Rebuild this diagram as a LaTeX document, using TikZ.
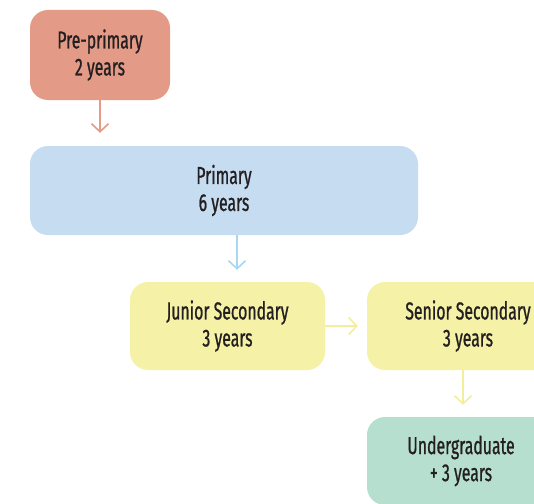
\documentclass[tikz,border=0pt]{standalone}
\usepackage{fontspec}
\setmainfont{Fira Sans}[FakeStretch=0.645, FakeBold=0.9]
\usetikzlibrary{arrows.meta}
\definecolor{preCol}{HTML}{E39A86}
\definecolor{primCol}{HTML}{C6DCF0}
\definecolor{primArr}{HTML}{A6D8F2}
\definecolor{secCol}{HTML}{F5F2A8}
\definecolor{secArr}{HTML}{F2EE9C}
\definecolor{uniCol}{HTML}{B6DFD0}
\definecolor{txtCol}{HTML}{231F20}

\begin{document}
\begin{tikzpicture}[x=1pt,y=-1pt]
\tikzstyle{stage} = [rounded corners=18pt, align=center, text=txtCol, font=\fontsize{24.5}{27}\selectfont, inner sep=0pt]
\tikzstyle{edge} = [-{Straight Barb[length=8pt,width=17pt]}, line width=1.6pt]
\clip (0,0) rectangle (534,503);
\node[stage, fill=preCol, minimum width=140pt, minimum height=90pt] (pre) at (100,55) {Pre-primary\\2 years};
\node[stage, fill=primCol, minimum width=388pt, minimum height=89pt] (prim) at (224,190.5) {Primary\\6 years};
\node[stage, fill=secCol, minimum width=195pt, minimum height=88pt] (jun) at (227.5,326) {Junior Secondary\\3 years};
\node[stage, fill=secCol, minimum width=202pt, minimum height=88pt] (sen) at (468,326) {Senior Secondary\\3 years};
\node[stage, fill=uniCol, minimum width=188pt, minimum height=88pt] (uni) at (461,461) {Undergraduate\\+ 3 years};
\draw[edge, preCol, shorten >=13pt] (pre.south) -- (pre.south |- prim.north);
\draw[edge, primArr, shorten >=12pt] ([xshift=9.5pt]jun.north |- prim.south) -- ([xshift=9.5pt]jun.north);
\draw[edge, secArr, shorten >=9pt] (jun.east) -- (sen.west);
\draw[edge, secArr, shorten >=12pt] ([xshift=2pt]uni.north |- sen.south) -- ([xshift=2pt]uni.north);
\end{tikzpicture}
\end{document}
